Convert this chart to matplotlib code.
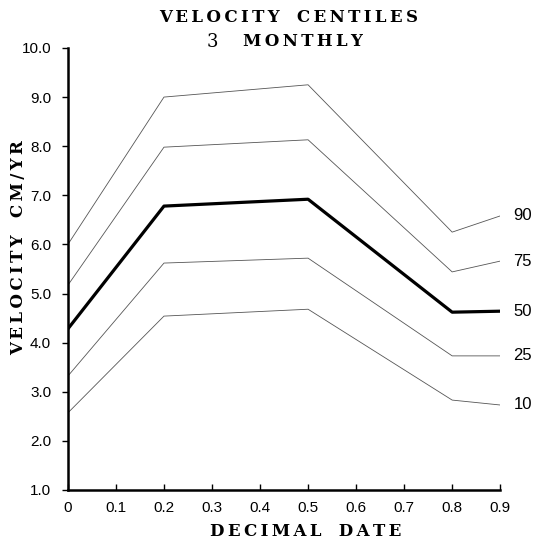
import matplotlib

matplotlib.use("Agg")
import matplotlib.pyplot as plt

# decimal date positions
dates = [0.0, 0.2, 0.5, 0.8, 0.9]

# velocity centiles (cm/yr)
c90 = [6.00, 9.00, 9.25, 6.25, 6.58]
c75 = [5.17, 7.98, 8.13, 5.44, 5.66]
c50 = [4.28, 6.78, 6.92, 4.62, 4.64]
c25 = [3.32, 5.62, 5.72, 3.73, 3.73]
c10 = [2.57, 4.54, 4.68, 2.83, 2.73]

centile_labels = ["90", "75", "50", "25", "10"]
x_ticks = [0, 0.1, 0.2, 0.3, 0.4, 0.5, 0.6, 0.7, 0.8, 0.9]
y_ticks = [1.0, 2.0, 3.0, 4.0, 5.0, 6.0, 7.0, 8.0, 9.0, 10.0]

SANS = "Liberation Sans"
SERIF = "DejaVu Serif"


def spaced(text):
    """Letter-spaced caps, like the typewriter-era title lettering."""
    words = text.split(" ")
    return "   ".join("\u2009".join(w) for w in words)


fig = plt.figure(figsize=(5.39, 5.45), dpi=100)
ax = fig.add_axes([0.126, 0.101, 0.802, 0.811])

series = [c90, c75, c50, c25, c10]
for vals, lab in zip(series, centile_labels):
    if lab == "50":
        ax.plot(dates, vals, color="black", linewidth=2.3)
    else:
        ax.plot(dates, vals, color="#555555", linewidth=0.6)
    ax.annotate(lab, xy=(dates[-1], vals[-1]), xytext=(9.5, 0),
                textcoords="offset points", va="center", ha="left",
                fontsize=12, family=SANS, annotation_clip=False)

ax.set_xlim(0, 0.9)
ax.set_ylim(1.0, 10.0)
ax.set_xticks(x_ticks)
ax.set_xticklabels([("0" if v == 0 else f"{v:.1f}") for v in x_ticks],
                   fontsize=11, family=SANS)
ax.set_yticks(y_ticks)
ax.set_yticklabels([f"{v:.1f}" for v in y_ticks], fontsize=11, family=SANS)

for side in ("top", "right"):
    ax.spines[side].set_visible(False)
for side in ("left", "bottom"):
    ax.spines[side].set_linewidth(1.8)
ax.tick_params(axis="x", direction="in", length=4, width=1, pad=8)
ax.tick_params(axis="y", direction="out", length=4, width=1, pad=8)

# title, two lines
fig.text(0.535, 1 - 17 / 545, spaced("VELOCITY CENTILES"), ha="center",
         va="center", fontsize=12, family=SERIF, fontweight="bold")
fig.text(0.384, 1 - 42 / 545, "3", ha="left", va="center",
         fontsize=13, family=SERIF)
fig.text(0.450, 1 - 42 / 545, spaced("MONTHLY"), ha="left", va="center",
         fontsize=12, family=SERIF, fontweight="bold")

# axis labels
fig.text(0.568, 1 - 532 / 545, spaced("DECIMAL DATE"), ha="center",
         va="center", fontsize=12, family=SERIF, fontweight="bold")
fig.text(0.034, 1 - 248 / 545, spaced("VELOCITY CM/YR"), ha="center",
         va="center", rotation=90, fontsize=12, family=SERIF,
         fontweight="bold")

fig.savefig("out.png", dpi=100)
plt.close(fig)
